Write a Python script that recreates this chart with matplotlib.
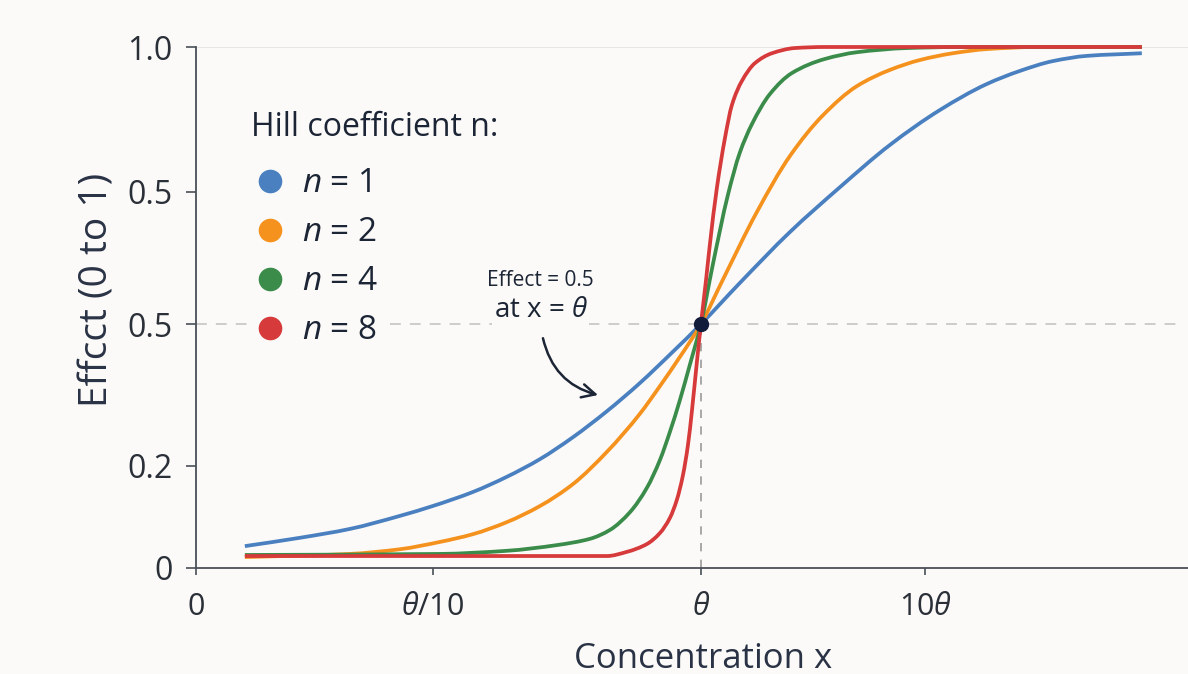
import matplotlib

matplotlib.use("Agg")
import matplotlib.pyplot as plt
from matplotlib.lines import Line2D
from matplotlib.patches import PathPatch
from matplotlib.path import Path

# x: position in decades of concentration relative to theta (as drawn)
# y: effect, as drawn on the chart's axis
blue_x = [-1.689, -1.485, -1.300, -1.115, -0.993, -0.844, -0.719, -0.596, -0.474, -0.348,
          -0.226, -0.104, 0.0, 0.144, 0.330, 0.515, 0.700, 0.885, 1.059, 1.181, 1.304,
          1.430, 1.633]
blue_y = [0.042, 0.058, 0.075, 0.100, 0.119, 0.146, 0.175, 0.209, 0.251, 0.301,
          0.355, 0.415, 0.468, 0.547, 0.645, 0.731, 0.812, 0.879, 0.929, 0.954, 0.973,
          0.983, 0.988]

orange_x = [-1.689, -1.300, -1.115, -0.967, -0.844, -0.719, -0.596, -0.474, -0.348, -0.226,
            -0.152, -0.078, 0.0, 0.081, 0.207, 0.330, 0.452, 0.578, 0.700, 0.811, 0.933,
            1.059, 1.244, 1.633]
orange_y = [0.021, 0.027, 0.036, 0.050, 0.065, 0.088, 0.119, 0.161, 0.223, 0.296,
            0.349, 0.405, 0.468, 0.553, 0.683, 0.791, 0.869, 0.925, 0.956, 0.975, 0.988,
            0.996, 1.0, 1.0]

green_x = [-1.689, -0.967, -0.719, -0.533, -0.411, -0.337, -0.263, -0.200, -0.152, -0.115,
           -0.078, -0.041, 0.0, 0.044, 0.100, 0.144, 0.189, 0.256, 0.337, 0.459, 0.578,
           0.763, 0.959, 1.633]
green_y = [0.025, 0.027, 0.033, 0.044, 0.056, 0.073, 0.107, 0.154, 0.207, 0.261,
           0.322, 0.390, 0.468, 0.582, 0.716, 0.797, 0.852, 0.910, 0.950, 0.977, 0.990,
           0.998, 1.0, 1.0]

red_x = [-1.689, -0.348, -0.274, -0.200, -0.152, -0.115, -0.089, -0.067, -0.048, -0.033,
         -0.015, 0.0, 0.019, 0.033, 0.059, 0.089, 0.115, 0.152, 0.200, 0.263, 0.348,
         0.459, 1.633]
red_y = [0.023, 0.023, 0.031, 0.046, 0.067, 0.096, 0.131, 0.177, 0.236, 0.303,
         0.395, 0.468, 0.553, 0.620, 0.729, 0.825, 0.889, 0.935, 0.969, 0.988, 0.998,
         1.0, 1.0]

series_labels = ["$n$ = 1", "$n$ = 2", "$n$ = 4", "$n$ = 8"]
series_colors = ["#4a80c0", "#f5921e", "#3b8c4a", "#d63a3a"]

xtick_pos = [-1.870, -0.993, 0.0, 0.830]
xtick_labels = ["0", r"$\theta$/10", r"$\theta$", r"10$\theta$"]
ytick_pos = [0.0, 0.196, 0.468, 0.722, 1.0]
ytick_labels = ["0", "0.2", "0.5", "0.5", "1.0"]

mid_x, mid_y = 0.0, 0.468

BG = "#fbfaf8"
INK = "#1c2535"


def smooth_path(xs, ys):
    """Bezier path through the points, monotone (PCHIP-style) tangents."""
    n = len(xs)
    h = [xs[i + 1] - xs[i] for i in range(n - 1)]
    d = [(ys[i + 1] - ys[i]) / h[i] for i in range(n - 1)]
    m = [d[0]] + [0.0] * (n - 2) + [d[-1]]
    for i in range(1, n - 1):
        if d[i - 1] * d[i] > 0:
            w1 = 2 * h[i] + h[i - 1]
            w2 = h[i] + 2 * h[i - 1]
            m[i] = (w1 + w2) / (w1 / d[i - 1] + w2 / d[i])
    verts = [(xs[0], ys[0])]
    codes = [Path.MOVETO]
    for i in range(n - 1):
        t = h[i] / 3
        verts += [(xs[i] + t, ys[i] + m[i] * t),
                  (xs[i + 1] - t, ys[i + 1] - m[i + 1] * t),
                  (xs[i + 1], ys[i + 1])]
        codes += [Path.CURVE4] * 3
    return Path(verts, codes)


plt.rcParams["font.family"] = ["Open Sans", "DejaVu Sans"]
plt.rcParams["mathtext.fontset"] = "custom"
plt.rcParams["mathtext.rm"] = "Open Sans"
plt.rcParams["mathtext.it"] = "Open Sans:italic"

fig = plt.figure(figsize=(11.88, 6.74), dpi=100, facecolor=BG)
ax = fig.add_axes([196 / 1188, 106 / 674, 992 / 1188, 521 / 674], facecolor=BG)
ax.set_xlim(-1.870, 1.804)
ax.set_ylim(0, 1.0)

# reference lines (the 0.5 guide is broken where the legend row sits)
ax.axhline(1.0, color="#e4e2e0", lw=1.2, zorder=1)
for x0, x1 in [(-1.870, -1.672), (-1.150, 1.78)]:
    ax.plot([x0, x1], [mid_y, mid_y], color="#c9c9c9", lw=1.3,
            dashes=(6, 5), zorder=1)
ax.plot([mid_x, mid_x], [0, mid_y], color="#9a9a9a", lw=1.2,
        dashes=(5, 5), zorder=1)

all_x = [blue_x, orange_x, green_x, red_x]
all_y = [blue_y, orange_y, green_y, red_y]
for xs, ys, color in zip(all_x, all_y, series_colors):
    patch = PathPatch(smooth_path(xs, ys), facecolor="none", edgecolor=color,
                      lw=2.7, capstyle="butt", joinstyle="round",
                      clip_on=False, zorder=3)
    ax.add_patch(patch)

ax.plot([mid_x], [mid_y], "o", color="#111b3a", ms=10, zorder=5)

ax.text(-0.593, 0.551, "Effect = 0.5", fontsize=15, color=INK,
        ha="center", va="center")
ax.text(-0.593, 0.496, r"at x = $\theta$", fontsize=20, color=INK,
        ha="center", va="center", zorder=2,
        bbox=dict(facecolor=BG, edgecolor="none", pad=1.0))
ax.annotate("", xy=(-0.381, 0.332), xytext=(-0.585, 0.441),
            arrowprops=dict(arrowstyle="->", color=INK, lw=1.8,
                            connectionstyle="arc3,rad=0.3",
                            shrinkA=0, shrinkB=0, mutation_scale=24))

for side in ("top", "right"):
    ax.spines[side].set_visible(False)
for side in ("left", "bottom"):
    ax.spines[side].set_color("#4a4f58")
    ax.spines[side].set_linewidth(1.3)

ax.set_xticks(xtick_pos)
ax.set_xticklabels(xtick_labels)
ax.set_yticks(ytick_pos)
ax.set_yticklabels(ytick_labels)
ax.tick_params(axis="y", length=7, width=1.2, color="#4a4f58", pad=10,
               labelsize=23, labelcolor="#2a2f38")
ax.tick_params(axis="x", length=5, width=1.2, color="#4a4f58", pad=12,
               labelsize=22, labelcolor="#2a2f38")

ax.set_xlabel("Concentration x", fontsize=25, color="#2a3345")
ax.xaxis.set_label_coords(0.511, -0.142)
ax.set_ylabel("Effcct (0 to 1)", fontsize=28, color="#2a3345")
ax.yaxis.set_label_coords(-0.080, 0.534)

handles = [Line2D([], [], ls="none", marker="o", ms=16, color=c) for c in series_colors]
leg = ax.legend(handles, series_labels, title="Hill coefficient n:",
                loc="upper left", bbox_to_anchor=(0.049, 0.889),
                borderaxespad=0, borderpad=0.2, frameon=False,
                fontsize=24, title_fontsize=23, handlelength=1.1,
                handletextpad=0.42, labelspacing=0.48, alignment="left")
leg._legend_box.sep = 16.5  # a little more room under the title
leg.get_title().set_color(INK)
for t in leg.get_texts():
    t.set_color(INK)
leg.set_zorder(4)

fig.savefig("out.png", dpi=100, facecolor=BG)
